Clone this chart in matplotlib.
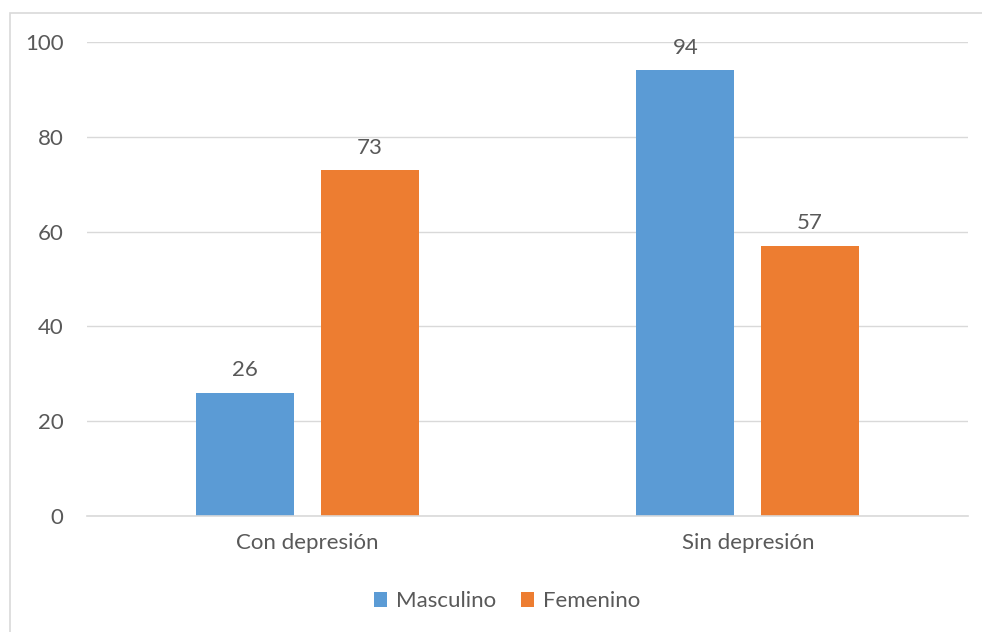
import matplotlib.pyplot as plt
import numpy as np
from matplotlib.patches import Rectangle

plt.rcParams["font.family"] = ["Lato", "DejaVu Sans"]

categories = ["Con depresión", "Sin depresión"]
masculino = [26, 94]
femenino = [73, 57]
series_names = ["Masculino", "Femenino"]
yticks = [0, 20, 40, 60, 80, 100]

BLUE = "#5B9BD5"
ORANGE = "#ED7D31"
TEXT = "#595959"
GRID = "#D9D9D9"
FS = 16

fig = plt.figure(figsize=(9.82, 6.32), dpi=100)
ax = fig.add_axes([87 / 982, 1 - 516 / 632, 881 / 982, 474 / 632])

# outer chart border
fig.patches.append(
    Rectangle((10 / 982, -0.05), 1.1, 1 - 13 / 632 + 0.05, transform=fig.transFigure,
              fill=False, edgecolor=GRID, linewidth=1.2)
)

x = np.arange(len(categories))
w = 0.2225
off = (w + 0.061) / 2
b1 = ax.bar(x - off, masculino, w, color=BLUE, label=series_names[0])
b2 = ax.bar(x + off, femenino, w, color=ORANGE, label=series_names[1])

for bars in (b1, b2):
    for rect in bars:
        h = rect.get_height()
        ax.text(rect.get_x() + rect.get_width() / 2, h + 2.6, f"{h:g}",
                ha="center", va="bottom", fontsize=FS, color=TEXT)

ax.set_xlim(-0.5, len(categories) - 0.5)
ax.set_ylim(0, 100)
ax.set_yticks(yticks)
ax.set_xticks(x)
ax.set_xticklabels(categories)
ax.yaxis.grid(True, color=GRID, linewidth=1)
ax.set_axisbelow(True)
for s in ["top", "right", "left"]:
    ax.spines[s].set_visible(False)
ax.spines["bottom"].set_color(GRID)
ax.spines["bottom"].set_linewidth(1.2)
ax.tick_params(axis="both", length=0, labelsize=FS, colors=TEXT)
ax.tick_params(axis="y", pad=17)
ax.tick_params(axis="x", pad=12)

ax.legend(loc="center", bbox_to_anchor=(0.477, -0.18), ncol=2, frameon=False,
          fontsize=FS, labelcolor=TEXT, handlelength=0.6, handleheight=0.6,
          handletextpad=0.4, columnspacing=1.1)

fig.savefig("out.png", dpi=100)
